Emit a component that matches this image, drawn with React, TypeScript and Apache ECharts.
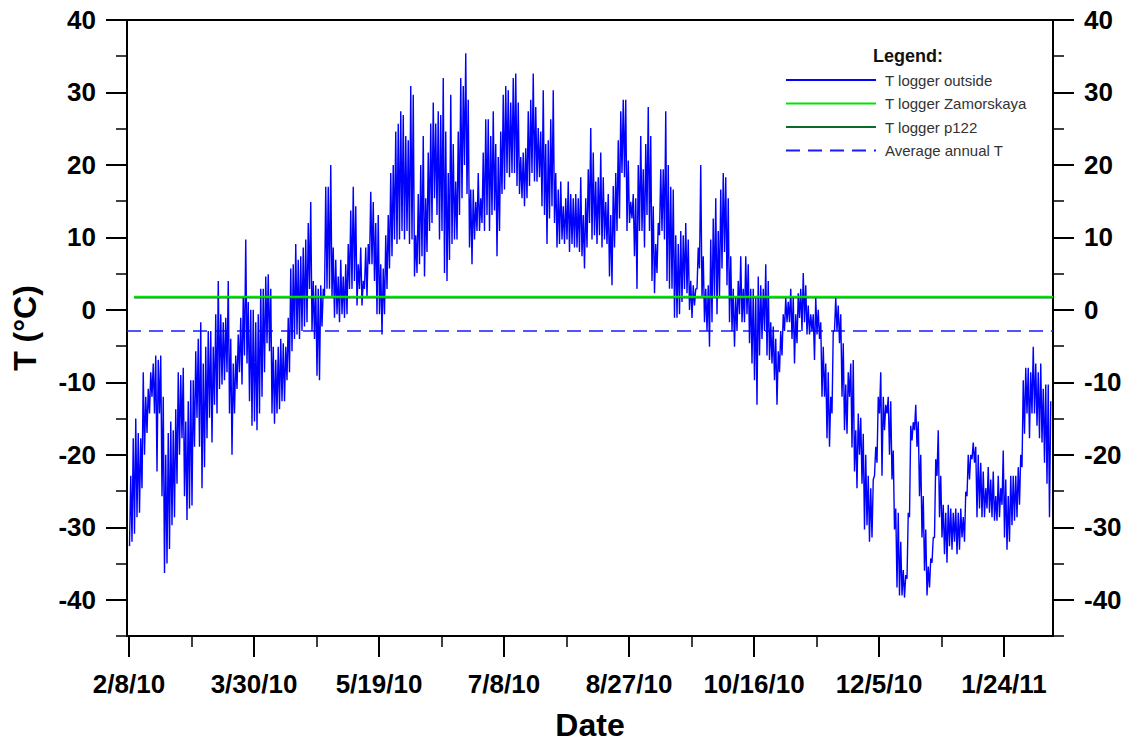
import React, { useEffect, useRef } from "react";
import * as echarts from "echarts";

// ---- axis ticks / labels ----
const tickDays = [0, 50, 100, 150, 200, 250, 300, 350];
const tickLabels = ["2/8/10", "3/30/10", "5/19/10", "7/8/10", "8/27/10", "10/16/10", "12/5/10", "1/24/11"];
const minorTickDays = [25, 75, 125, 175, 225, 275, 325];
const yMajorTicks = [-40, -30, -20, -10, 0, 10, 20, 30, 40];
const yMinorTicks = [-45, -35, -25, -15, -5, 5, 15, 25, 35];

// ---- series names ----
const seriesNames = ["T logger outside", "T logger Zamorskaya", "T logger p122", "Average annual T"];

// ---- T logger outside: daily maximum / minimum (°C), day 0 = 2/8/10 ----
const dayHigh = [
  -22.9, -17.7, -15, -17, -17.7, -8.6, -12, -10.9, -8.6, -7.4,
  -6.3, -6.9, -6.3, -12, -20, -17, -15.4, -16.6, -13.7, -8.6,
  -9, -8, -15.4, -12.6, -9.7, -9.7, -5.7, -4, -1.7, -7.4,
  -5.1, -2.9, -2.9, -5.1, -0.6, 4, -0.6, -1.7, -1.1, 4,
  -4, -7.4, -6.3, -3.4, -1.1, 1.7, 9.7, 1.1, 0, 0,
  -1.7, -0.6, 2.9, 2.9, 4.6, 4.9, 2.9, -5.1, -6.9, -5.1,
  -4, -4.6, -5.1, -1.1, 5.7, 6.3, 9.1, 6.9, 7.4, 8.6,
  9.7, 12, 14.9, 4, 3.4, 2.9, 3.4, 2.9, 17, 17,
  20, 8.6, 6.9, 4.6, 6.9, 4.6, 6.3, 9.1, 13.7, 17,
  14.3, 6.3, 8.6, 4, 8.6, 9.1, 16.3, 14.9, 12, 13.1,
  6.3, 5.7, 10.3, 13.1, 18.9, 20, 24.6, 25.7, 27.4, 26.9,
  24, 23.4, 30.9, 29.7, 10.3, 16, 20, 24, 15.4, 21.7,
  25.7, 28.6, 25.7, 27.4, 26.9, 32, 24.6, 18.9, 29.7, 22.9,
  17.7, 24.6, 32, 30.9, 35.4, 29, 16.6, 16.6, 14.9, 18.9,
  15.4, 21.7, 26.3, 26.3, 24, 27.4, 22.9, 21.1, 24.6, 29.7,
  30.9, 30.3, 28.6, 32, 32.6, 28.6, 21.1, 21.7, 22.3, 27.4,
  29, 32.6, 28, 25.1, 24.6, 30.3, 22.9, 23.4, 26.3, 30.3,
  18.9, 16.6, 17.7, 14.3, 15.4, 17.7, 16, 15.4, 16, 15.4,
  18.3, 13.1, 15.4, 19.4, 25.1, 21.7, 17.7, 18.3, 21.7, 18.3,
  14.9, 16, 13.1, 17.1, 18.9, 23.4, 27.4, 29, 29, 20.6,
  14.9, 16, 15.4, 20, 24, 19.4, 22.9, 28, 24, 14.3,
  9.1, 12, 19.4, 19.4, 27.4, 20, 17, 16.6, 10.3, 9.1,
  10.9, 10.3, 12, 9.7, 4, 3.4, 2.9, 8.6, 20, 7.4,
  2.9, 3.4, 9.7, 12.6, 15.4, 10.9, 16.6, 18.9, 18.3, 15.4,
  7.4, 2.9, 1.7, 4, 7.4, 2.9, 7.4, 6.3, 2.9, 2.9,
  1.7, 4.6, 3.4, 2.9, 6.3, 4, -1.7, -2.3, -4, -5.7,
  -2.9, -0.6, 1.7, 1.1, 2.9, 1.7, -0.6, 2.3, 2.9, 5.1,
  3.4, 0.6, -0.6, -0.6, 1.7, 0, -1.7, -5.1, -7.4, -8.6,
  -12, -2.9, 1.7, 0.6, -0.6, -4.6, -10.3, -8.6, -7.4, -6.9,
  -16.6, -14.3, -14.9, -17.1, -20, -22.9, -24.6, -23.4, -18.9, -12,
  -8.6, -12, -13.1, -12, -12.6, -19.4, -27.4, -28, -32, -35.9,
  -36.6, -28, -16, -15.5, -13.1, -15.4, -20, -25.7, -30.3, -35.4,
  -34.3, -31.4, -20.6, -16.6, -22.9, -26.9, -28, -26.9, -27.4, -28,
  -27.4, -28, -27.4, -28.6, -25.1, -20, -20, -18.3, -18.9, -20,
  -21.1, -22.3, -24.6, -21.7, -23.4, -22.3, -25.7, -22.9, -24.6, -19.4,
  -23.4, -25.7, -22.9, -22.9, -22.9, -21.7, -20, -9.7, -8, -8,
  -8.6, -5.1, -7.4, -8.6, -7.4, -10.9, -10.3, -10.3, -12.6,
];
const dayLow = [
  -32.6, -32, -30.9, -28.6, -28, -24.6, -20, -17, -14.3, -12,
  -14.3, -22.3, -14.3, -25.7, -36.3, -35, -33, -29.7, -28.6, -24,
  -20, -17.7, -25.7, -29, -27.4, -27, -18.9, -14.9, -18.9, -24.6,
  -21.7, -17.7, -14.9, -18.3, -13.1, -14.3, -10.9, -10.3, -9.7, -8.6,
  -14.3, -20, -14.3, -10.9, -8.6, -10.3, -6.3, -7.4, -12.6, -16,
  -15.4, -16.6, -14.3, -12, -8.6, -4.6, -5.7, -14.3, -15.7, -14.3,
  -13.7, -12.6, -12.6, -9.7, -8.6, -5.7, -4, -3.4, -4, -2.9,
  -2.3, -1.7, 2.9, -2.9, -4, -9.1, -9.7, -2.3, 1.7, 2.9,
  2.9, 1.7, -1.1, -0.6, -1.7, -0.6, -1.1, -0.6, 2.9, 2.9,
  4, 0.6, 2.9, 0.6, 2.9, 1.7, 6.3, 6.3, 4, -0.6,
  -0.6, -3.4, -0.6, 2.9, 5.7, 7.4, 9.7, 9.1, 9.7, 10.9,
  9.7, 10.9, 9.1, 9.7, 4.6, 5.1, 6.3, 7.4, 4.6, 8,
  10.9, 12, 15.4, 13.1, 9.7, 10.9, 5.1, 4, 6.9, 9.1,
  9.7, 9.7, 13.1, 15.4, 20, 16, 8.6, 6.3, 9.7, 10.9,
  10.9, 12, 10.9, 13.1, 10.9, 13.1, 13.7, 7.4, 10.9, 16,
  16.6, 18.9, 18.3, 18.9, 18.9, 17.1, 16, 15.4, 14.3, 15.4,
  17.1, 18.9, 17.7, 17.7, 18.3, 14.3, 13.1, 9.1, 12.6, 14.3,
  12, 8.6, 9.1, 9.7, 9.1, 9.7, 8, 9.1, 8.6, 8.6,
  8, 7.4, 5.7, 8.6, 12, 9.7, 10.3, 9.1, 10.3, 8.6,
  9.7, 9.1, 4.6, 3.4, 8.6, 10.9, 12.6, 18.9, 18.3, 10.9,
  12, 12.6, 7.4, 2.9, 10.9, 10.9, 8.6, 13.1, 10.9, 4,
  2.3, 5.1, 10.3, 10.9, 9.7, 4, 2.9, 2.9, -1.1, -1.1,
  -0.6, 1.1, 2.9, 2.3, 0, -1.1, 0.6, 2.9, 5.7, 1.7,
  -1.7, -2.9, -5.1, -1.7, 1.7, -0.6, 1.7, 5.7, 8, 3.4,
  -1.7, -2.9, -5.1, -2.9, -0.6, -1.7, -1.7, -0.6, -4.6, -7.4,
  -9.7, -13.1, -6.3, -4, -2.9, -6.3, -6.9, -7.4, -9.7, -13.1,
  -8.6, -6.3, -2.9, -1.7, -1.7, -4, -7.4, -4.6, -1.1, -2.9,
  -1.7, -3.4, -3.4, -2.9, -6.9, -3.4, -4, -12, -12, -17.7,
  -18.9, -14.3, -2.9, -2.9, -4.6, -12, -16.6, -17.1, -12, -19,
  -22.3, -24.6, -20, -24, -30.3, -29.7, -32, -31.4, -22.9, -21.1,
  -14.3, -22.9, -16.6, -14.3, -20, -23.4, -30.3, -38.3, -39.4, -39.4,
  -39.7, -37.1, -28.6, -18, -16.6, -18.9, -25.7, -31.4, -36, -39.4,
  -38.3, -34.9, -31.4, -22.9, -28.6, -31.4, -33.7, -34.9, -32.6, -33.1,
  -32, -33.7, -33.1, -31.4, -32, -25.7, -23.4, -20.6, -21.1, -28.6,
  -27.4, -28.6, -28.6, -27.4, -28, -28.6, -29.1, -29.1, -28.6, -26.9,
  -31.4, -33.1, -32, -29.7, -29.1, -28.6, -26.9, -21.7, -17.1, -14.3,
  -17.7, -14.3, -14.3, -16, -17.7, -18.3, -21.1, -24, -28.6,
];

// ---- reference lines (°C) ----
const zamorskayaT = 1.8;
const p122T = 1.7;
const averageAnnualT = -2.9;
const refLineStartDay = 2;

const xMin = -0.8;
const xMax = 369.6;
const yMin = -45;
const yMax = 40;

const FONT = 'Arial, "Liberation Sans", Helvetica, sans-serif';

export default function App() {
  const ref = useRef<HTMLDivElement>(null);

  useEffect(() => {
    if (!ref.current) return;
    const chart = echarts.init(ref.current, null, { renderer: "svg" });

    const outsideData: number[][] = [];
    for (let i = 0; i < dayHigh.length; i++) {
      outsideData.push([i + 0.2, dayLow[i]]);
      outsideData.push([i + 0.7, dayHigh[i]]);
    }

    const labelStyle = {
      fontSize: 26,
      fontWeight: "bold" as const,
      fontFamily: FONT,
      color: "#000",
    };
    const majorTick = { color: "#000", width: 2 };
    const minorTick = { color: "#000", width: 1.5 };

    const yAxisBase = (position: "left" | "right") => [
      {
        type: "value",
        min: yMin,
        max: yMax,
        position,
        axisLine: { show: true, onZero: false, lineStyle: { color: "#000", width: 2 } },
        axisTick: { show: true, customValues: yMajorTicks, length: 21, lineStyle: majorTick },
        axisLabel: { show: true, customValues: yMajorTicks, margin: 31, ...labelStyle },
        splitLine: { show: false },
        ...(position === "left"
          ? {
              name: "T (°C)",
              nameLocation: "middle",
              nameRotate: 90,
              nameGap: 86,
              nameTextStyle: { fontSize: 32, fontWeight: "bold", fontFamily: FONT, color: "#000" },
            }
          : {}),
      },
      {
        type: "value",
        min: yMin,
        max: yMax,
        position,
        axisLine: { show: false, onZero: false },
        axisTick: { show: true, customValues: yMinorTicks, length: 11, lineStyle: minorTick },
        axisLabel: { show: false },
        splitLine: { show: false },
      },
    ];

    chart.setOption({
      animation: false,
      backgroundColor: "#fff",
      grid: {
        left: 127,
        right: 79,
        top: 20,
        bottom: 106,
        outerBoundsMode: "none",
        containLabel: false,
        show: true,
        borderColor: "#000",
        borderWidth: 2,
        backgroundColor: "transparent",
      },
      xAxis: [
        {
          type: "value",
          min: xMin,
          max: xMax,
          position: "bottom",
          axisLine: { show: true, onZero: false, lineStyle: { color: "#000", width: 2 } },
          axisTick: { show: true, customValues: tickDays, length: 21, lineStyle: majorTick },
          axisLabel: {
            show: true,
            customValues: tickDays,
            margin: 35,
            formatter: (v: number) => tickLabels[Math.round(v / 50)] ?? "",
            ...labelStyle,
          },
          splitLine: { show: false },
          name: "Date",
          nameLocation: "middle",
          nameGap: 75,
          nameTextStyle: {
            fontSize: 32,
            fontWeight: "bold",
            fontFamily: FONT,
            color: "#000",
            lineHeight: 27,
          },
        },
        {
          type: "value",
          min: xMin,
          max: xMax,
          position: "bottom",
          axisLine: { show: false, onZero: false },
          axisTick: { show: true, customValues: minorTickDays, length: 11, lineStyle: minorTick },
          axisLabel: { show: false },
          splitLine: { show: false },
        },
      ],
      yAxis: [...yAxisBase("left"), ...yAxisBase("right")],
      legend: {
        show: true,
        orient: "vertical",
        left: 780,
        top: 67,
        itemWidth: 90,
        itemHeight: 14,
        itemGap: 7.5,
        itemStyle: { opacity: 0 },
        data: [seriesNames[0], seriesNames[1], seriesNames[2], seriesNames[3]],
        textStyle: { fontSize: 15, color: "#333", fontFamily: FONT, lineHeight: 16, padding: [0, 0, 0, 4] },
        selectedMode: false,
      },
      graphic: [
        {
          type: "text",
          left: 873,
          top: 47,
          style: {
            text: "Legend:",
            fontSize: 18,
            fontWeight: "bold",
            fontFamily: FONT,
            fill: "#111",
          },
        },
      ],
      series: [
        {
          name: seriesNames[0],
          type: "line",
          xAxisIndex: 0,
          yAxisIndex: 0,
          data: outsideData,
          symbol: "none",
          lineStyle: { color: "#0000ff", width: 1.4 },
          itemStyle: { color: "#0000ff" },
          z: 2,
        },
        {
          name: seriesNames[3],
          type: "line",
          xAxisIndex: 0,
          yAxisIndex: 0,
          data: [
            [xMin, averageAnnualT],
            [xMax, averageAnnualT],
          ],
          symbol: "none",
          lineStyle: { color: "#1a1aff", width: 1.5, type: [14, 8] },
          itemStyle: { color: "#1a1aff" },
          z: 1,
        },
        {
          name: seriesNames[2],
          type: "line",
          xAxisIndex: 0,
          yAxisIndex: 0,
          data: [
            [refLineStartDay, p122T],
            [xMax, p122T],
          ],
          symbol: "none",
          lineStyle: { color: "#0a6b2a", width: 2 },
          itemStyle: { color: "#0a6b2a" },
          z: 3,
        },
        {
          name: seriesNames[1],
          type: "line",
          xAxisIndex: 0,
          yAxisIndex: 0,
          data: [
            [refLineStartDay, zamorskayaT],
            [xMax, zamorskayaT],
          ],
          symbol: "none",
          lineStyle: { color: "#00e600", width: 2 },
          itemStyle: { color: "#00e600" },
          z: 4,
        },
      ],
    });

    return () => chart.dispose();
  }, []);

  return (
    <div
      ref={ref}
      style={{ position: "fixed", left: 0, top: 0, width: 1132, height: 742, background: "#fff" }}
    />
  );
}
